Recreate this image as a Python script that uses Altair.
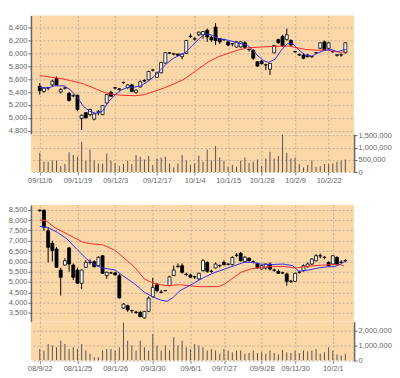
import altair as alt
import pandas as pd

# ---------------- top panel: daily candles ----------------
top_open  = [5490,5410,5460,5510,5610,5400,5460,5380,5340,5350,4990,5080,5050,4980,5080,5050,5230,5395,5460,5440,
             5550,5470,5510,5390,5480,5580,5590,5740,5630,5700,5850,6010,5990,5990,5950,6000,6270,6220,6290,6290,
             6360,6250,6410,6230,6215,6180,6150,6100,6100,6165,6060,6050,5870,5880,5820,5755,6010,6215,6265,6215,
             6200,6030,5980,5975,5975,5950,6010,6080,6180,6080,6030,5970,5975,6010]
top_high  = [5540,5480,5480,5590,5640,5460,5480,5400,5360,5360,5050,5090,5140,5070,5120,5200,5370,5420,5480,5460,
             5560,5520,5530,5440,5580,5600,5730,5760,5720,5870,6020,6020,6010,6000,6000,6210,6310,6250,6340,6350,
             6385,6270,6470,6240,6230,6190,6160,6190,6185,6190,6070,6060,5880,5900,5840,5850,6130,6230,6290,6385,
             6220,6040,6000,5990,5990,5960,6020,6170,6200,6175,6040,5990,6000,6175]
top_low   = [5360,5390,5430,5490,5500,5380,5440,5250,5320,5100,4810,4990,5020,4960,5040,5040,5220,5330,5440,5420,
             5530,5450,5400,5380,5470,5560,5580,5720,5620,5690,5840,5990,5970,5960,5910,5990,6240,6200,6270,6230,
             6180,6180,6130,6150,6200,6110,6110,6090,6090,6080,6030,5900,5790,5830,5740,5665,6000,6150,6110,6200,
             6120,6010,5960,5910,5940,5930,5990,6070,6040,6060,6010,5950,5950,6000]
top_close = [5420,5460,5470,5570,5510,5440,5465,5270,5350,5130,5040,5000,5130,5060,5100,5190,5360,5335,5470,5450,
             5545,5510,5410,5430,5560,5570,5720,5745,5700,5860,6010,6005,5995,5970,5990,6200,6260,6230,6330,6340,
             6256,6210,6200,6180,6210,6130,6150,6180,6180,6095,6065,5925,5805,5840,5825,5845,6125,6165,6115,6290,
             6130,6025,5975,5925,5950,5950,6015,6165,6050,6165,6025,5980,5980,6165]
top_volume = [790000,425000,425000,480000,480000,250000,330000,810000,700000,630000,1250000,465000,930000,480000,
              356000,356000,767000,465000,370000,247000,330000,465000,330000,700000,630000,520000,657000,288000,
              560000,600000,630000,356000,192000,356000,700000,480000,300000,356000,670000,425000,930000,480000,
              1070000,600000,465000,219000,288000,219000,465000,600000,370000,425000,520000,247000,560000,836000,
              560000,657000,1550000,794000,560000,600000,330000,192000,288000,480000,219000,247000,330000,330000,
              356000,425000,465000,520000]
top_short_x = [0,1.9,3.5,5.8,7.3,8.8,10.4,11.9,13.5,15,16.5,18,19.6,21.2,22.7,24.2,25.8,27.3,28.8,30.4,31.9,33.5,
               35,36.5,38.1,39.6,41.2,42.7,45,47.3,49.6,50.8,51.9,53.5,54.6,56.2,57.7,59.2,60.4,61.9,63.5,65,66.5,
               68.1,69.6,71.2,72.3,73.1]
top_short_y = [5477,5461,5497,5497,5436,5333,5179,5102,5067,5102,5256,5359,5436,5477,5477,5497,5564,5641,5743,5846,
               5923,5974,6026,6128,6231,6308,6282,6231,6205,6164,6128,6061,5974,5887,5862,5908,6051,6154,6154,6051,
               5974,5959,6010,6051,6061,6026,6051,6061]
top_long_x = [0,5,7.3,10.4,13.5,15.8,18,20.4,22.7,25,27.3,29.6,31.9,34.2,36.5,38.1,40.4,42.7,45,47.3,49.6,53.5,
              57.3,59.6,61.2,63.5,65.8,68.8,71.9,73]
top_long_y = [5656,5610,5579,5528,5446,5384,5359,5348,5343,5359,5410,5461,5523,5590,5692,5769,5872,5949,6000,6051,
              6087,6102,6113,6113,6092,6061,6051,6051,6015,6035]
top_tick_pos = [0, 9, 18, 28, 37, 45, 53, 61, 69]
top_tick_labels = ["09/11/6", "09/11/19", "09/12/3", "09/12/17", "10/1/4", "10/1/15", "10/1/28", "10/2/9", "10/2/22"]
top_price_ticks = [4800, 5000, 5200, 5400, 5600, 5800, 6000, 6200, 6400]
top_vol_ticks = [0, 500000, 1000000, 1500000]

# ---------------- bottom panel: weekly candles ----------------
bot_open  = [8480,8480,7480,6870,6600,5580,5820,6650,5820,5580,4940,5710,5950,5980,5790,6270,5310,5440,5440,5300,
             3740,3850,3620,3540,3530,3260,3580,4290,4870,4500,4580,4820,5310,5740,5790,5380,5340,5250,5150,5550,
             5950,5520,5680,5800,5950,5870,5840,6300,6390,5990,6150,5980,5900,5630,5680,5870,5580,5520,5440,5390,
             5030,5030,5470,5550,5740,5870,6030,6270,6190,5950,5870,6190,5950,6030]
bot_high  = [8520,8500,7650,7000,6700,5700,6150,6700,5900,5700,5600,6050,6100,6050,6250,6300,5500,5500,5500,5400,
             3980,3900,3650,3600,3600,3600,4300,5200,4950,4620,4620,5300,5800,5900,5900,5450,5400,5300,5450,6100,
             6000,5600,5950,5850,6050,5900,6250,6400,6450,6250,6200,6050,5950,5850,5900,5950,5650,5600,5500,5450,
             5100,5450,5550,5850,5950,6150,6350,6380,6250,6000,6300,6250,6050,6100]
bot_low   = [8400,7480,5950,6000,5700,4340,5800,5500,5100,4900,4660,5690,5850,5700,5780,5400,5150,5400,5300,4200,
             3700,3550,3500,3450,3300,3230,3560,4250,4500,4450,4550,4800,5300,5700,5400,5300,5200,5150,5100,5500,
             5450,5450,5650,5700,5800,5800,5800,6200,6000,5950,6000,5900,5650,5600,5600,5550,5500,5400,5380,4820,
             4950,5000,5400,5500,5700,5820,6000,6150,6100,5750,5850,5800,5900,5950]
bot_close = [8450,7650,6680,6520,5710,5230,6030,5870,5230,4940,5580,5950,5960,5740,6190,5420,5470,5440,5350,4230,
             3930,3650,3610,3530,3320,3580,4220,4740,4580,4510,4590,5250,5580,5760,5470,5360,5230,5240,5420,6030,
             5520,5510,5870,5790,5840,5860,6190,6290,6030,6200,6030,5990,5680,5790,5870,5630,5570,5420,5440,5030,
             5040,5420,5480,5790,5870,6110,6270,6260,6200,5790,6270,5870,5960,6040]
bot_volume = [780000,670000,1110000,1000000,890000,1330000,1110000,780000,890000,780000,1110000,670000,450000,
              220000,220000,670000,780000,780000,670000,890000,2550000,1330000,1000000,670000,1330000,890000,
              670000,1780000,1000000,670000,1000000,670000,1560000,1000000,1330000,890000,780000,1110000,
              1000000,890000,670000,780000,670000,450000,780000,670000,560000,670000,670000,450000,500000,670000,
              500000,560000,450000,670000,500000,400000,710000,560000,500000,670000,500000,670000,620000,670000,
              780000,450000,560000,890000,670000,400000,330000,450000]
bot_short_x = [0,1.9,4.2,6.5,8.8,11.2,13.5,15,16.5,18,20.4,22.7,25,27.3,28.8,30.4,31.9,33.5,35,36.5,38.1,39.6,
               41.9,44.2,46.5,48.8,50.8,52.7,55,58.1,60.4,61.9,64.2,66.5,68.8,70.4,71.9,73.1]
bot_short_y = [7694,7645,7403,7081,6597,6113,5790,5678,5629,5580,5226,4903,4500,4258,4129,4064,4258,4581,4742,4903,
               5097,5258,5468,5629,5790,5952,5952,5871,5839,5871,5790,5516,5580,5677,5742,5742,5871,6032]
bot_long_x = [0,1.5,3.5,5.8,8.1,10.4,12.7,15,17.3,18.1,20.4,22.7,25,27.3,28.8,30.4,33.5,38.1,40.4,42.7,44.2,45.8,
              48.1,50.4,52.7,55,58.1,61.2,63.5,66.5,69.6,71.9,72.7]
bot_long_y = [8000,7968,7645,7403,7161,6919,6839,6806,6597,6516,6113,5710,5145,4935,4870,4823,4870,4774,4774,4774,
              4903,5145,5468,5629,5710,5742,5758,5678,5742,5806,5839,5839,5774]
bot_tick_pos = [0, 9, 18, 27, 36, 44, 53, 61, 70]
bot_tick_labels = ["08/9/22", "08/11/25", "09/1/26", "09/3/30", "09/6/1", "09/7/27", "09/9/28", "09/11/30", "10/2/1"]
bot_price_ticks = [3500, 4000, 4500, 5000, 5500, 6000, 6500, 7000, 7500, 8000, 8500]
bot_vol_ticks = [0, 1000000, 2000000]

FONT = "Liberation Sans"
GRID = "#c2b09a"
X_DOMAIN = [-0.92, 73.9]
W = 324


def label_expr(pos, labels):
    arr_l = "[" + ",".join("'" + s + "'" for s in labels) + "]"
    arr_p = "[" + ",".join(str(p) for p in pos) + "]"
    return f"{arr_l}[indexof({arr_p}, datum.value)]"


def panel(o, h, l, c, vol, sx, sy, lx, ly, tick_pos, tick_labels, price_dom, price_ticks,
          vol_dom, vol_ticks, ph, vh):
    n = len(o)
    df = pd.DataFrame({"i": list(range(n)), "o": o, "h": h, "l": l, "c": c, "v": vol})
    df["dir"] = ["up" if cc >= oo else "down" for oo, cc in zip(o, c)]
    df_s = pd.DataFrame({"i": sx, "p": sy})
    df_l = pd.DataFrame({"i": lx, "p": ly})

    xsc = alt.Scale(domain=X_DOMAIN, nice=False, zero=False)
    x_hidden = alt.X("i:Q", scale=xsc, title=None,
                     axis=alt.Axis(values=tick_pos, labels=False, ticks=False, domain=False,
                                   grid=True, gridColor=GRID, gridDash=[2, 2],
                                   minExtent=0, maxExtent=0, offset=0))
    x_shown = alt.X("i:Q", scale=xsc, title=None,
                    axis=alt.Axis(values=tick_pos, labelExpr=label_expr(tick_pos, tick_labels),
                                  grid=True, gridColor=GRID, gridDash=[2, 2], domain=False,
                                  ticks=True, tickSize=3, tickColor="#888", labelFontSize=7.5,
                                  labelColor="#666", labelFont=FONT, labelPadding=1,
                                  labelOverlap=False, minExtent=0, maxExtent=12))
    psc = alt.Scale(domain=price_dom, nice=False, zero=False)
    paxis = alt.Axis(values=price_ticks, format=",d", grid=True, gridColor=GRID, gridDash=[2, 2],
                     domainColor="#666", domainWidth=1.5, tickColor="#666", tickSize=3,
                     labelFontSize=7.5, labelColor="#666", labelFont=FONT, labelPadding=1,
                     title=None, orient="left")

    base = alt.Chart(df)
    wicks = base.mark_rule(color="black", strokeWidth=1).encode(
        x=x_hidden, y=alt.Y("l:Q", scale=psc, axis=paxis), y2="h:Q")
    bodies = base.mark_bar(orient="vertical", size=3, stroke="black", strokeWidth=0.8).encode(
        x=x_hidden, y=alt.Y("o:Q", scale=psc, axis=paxis), y2="c:Q",
        fill=alt.Fill("dir:N", scale=alt.Scale(domain=["up", "down"], range=["white", "black"]),
                      legend=None))
    long_line = alt.Chart(df_l).mark_line(color="#ff2a2a", strokeWidth=1).encode(
        x=x_hidden, y=alt.Y("p:Q", scale=psc, axis=paxis))
    short_line = alt.Chart(df_s).mark_line(color="#3030ee", strokeWidth=1).encode(
        x=x_hidden, y=alt.Y("p:Q", scale=psc, axis=paxis))
    price = alt.layer(wicks, bodies, long_line, short_line).properties(width=W, height=ph)

    vaxis = alt.Axis(values=vol_ticks, format=",d", orient="right", grid=True, gridColor=GRID,
                     gridDash=[2, 2], domainColor="#666", domainWidth=1.5, tickColor="#666",
                     tickSize=3, labelFontSize=7.5, labelColor="#666", labelFont=FONT,
                     labelPadding=1, title=None)
    volume = base.mark_bar(orient="vertical", size=1, color="#555", clip=True).encode(
        x=x_shown, y=alt.Y("v:Q", scale=alt.Scale(domain=vol_dom, nice=False), axis=vaxis)
    ).properties(width=W, height=vh)
    return alt.vconcat(price, volume, spacing=0, bounds="flush")


top = panel(top_open, top_high, top_low, top_close, top_volume, top_short_x, top_short_y,
            top_long_x, top_long_y, top_tick_pos, top_tick_labels, [4746, 6590], top_price_ticks,
            [0, 1560000], top_vol_ticks, 119, 38)
bottom = panel(bot_open, bot_high, bot_low, bot_close, bot_volume, bot_short_x, bot_short_y,
               bot_long_x, bot_long_y, bot_tick_pos, bot_tick_labels, [3080, 8730], bot_price_ticks,
               [0, 2600000], bot_vol_ticks, 117, 39)

chart = alt.vconcat(top, bottom, spacing=21).properties(
    padding={"left": 0, "top": 7, "right": 0, "bottom": 0}
).configure_view(fill="#fcd8a9", stroke=None)

chart.save("out.html", embed_options={"renderer": "svg", "actions": False})
